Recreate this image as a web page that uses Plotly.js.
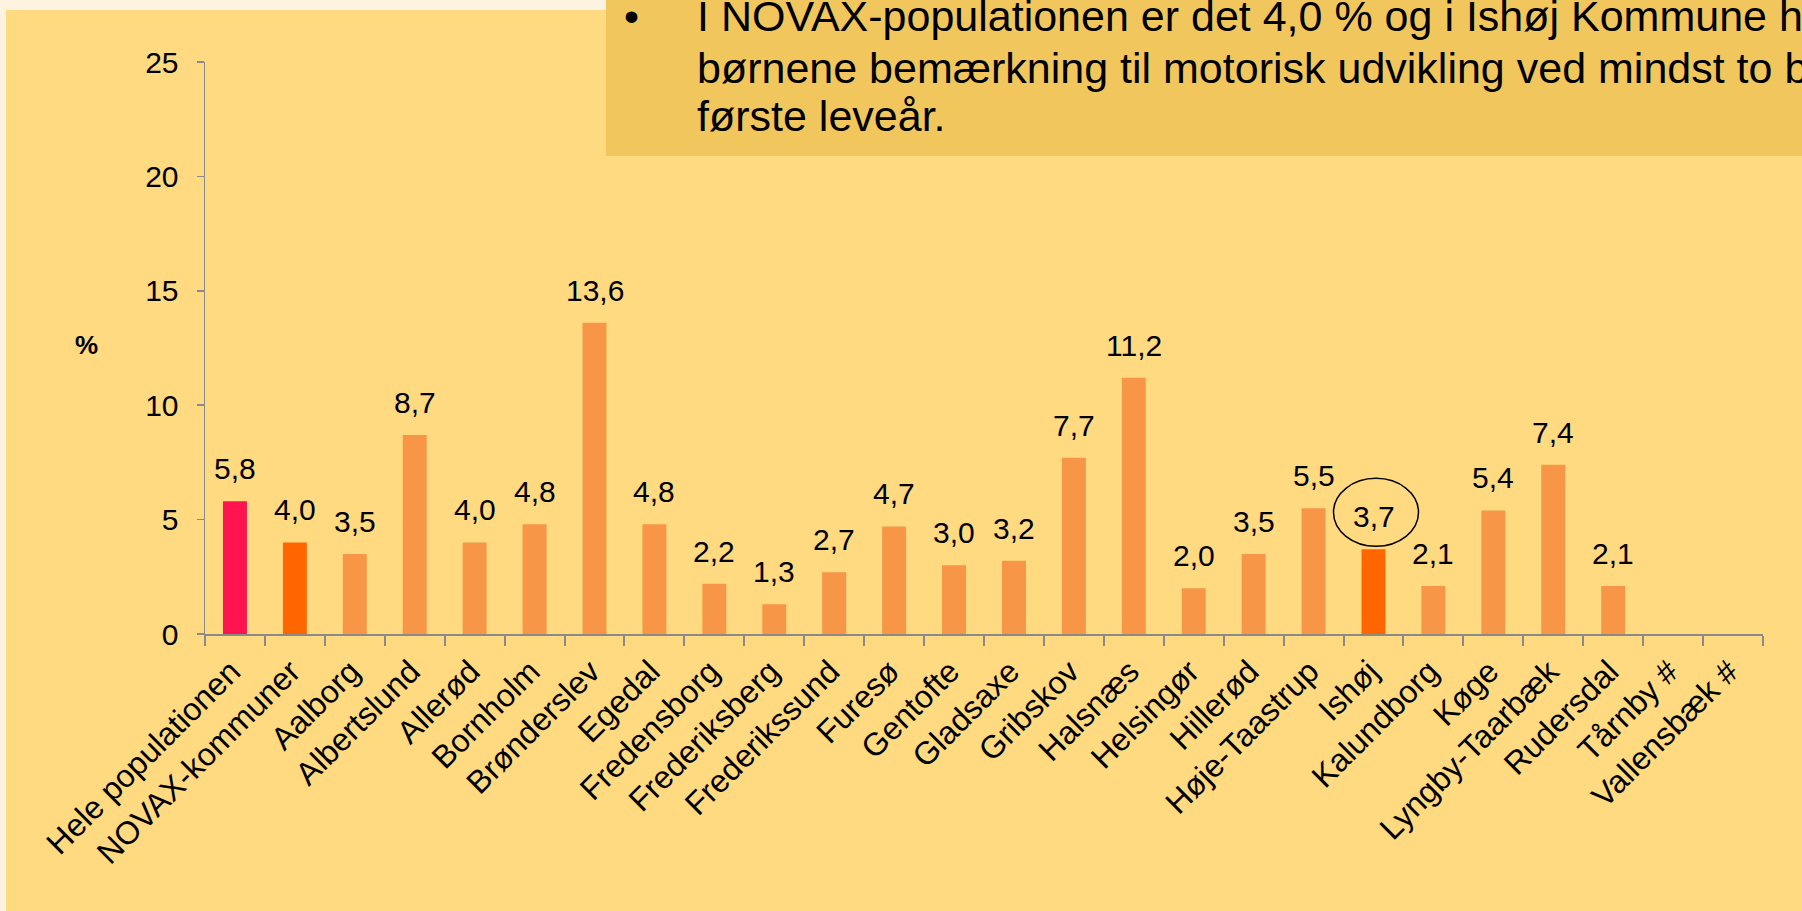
<!DOCTYPE html>
<html>
<head>
<meta charset="utf-8">
<script src="https://cdn.plot.ly/plotly-3.0.1.min.js"></script>
<style>
  html, body { margin: 0; padding: 0; background: #FDF3E0; }
  #chart { width: 1802px; height: 911px; }
</style>
</head>
<body>
<div id="chart"></div>
<script>
// ---- Data ----
const categories = [
  "Hele populationen", "NOVAX-kommuner", "Aalborg", "Albertslund", "Allerød",
  "Bornholm", "Brønderslev", "Egedal", "Fredensborg", "Frederiksberg",
  "Frederikssund", "Furesø", "Gentofte", "Gladsaxe", "Gribskov", "Halsnæs",
  "Helsingør", "Hillerød", "Høje-Taastrup", "Ishøj", "Kalundborg", "Køge",
  "Lyngby-Taarbæk", "Rudersdal", "Tårnby #", "Vallensbæk #"
];
const values = [
  5.8, 4.0, 3.5, 8.7, 4.0, 4.8, 13.6, 4.8, 2.2, 1.3, 2.7, 4.7, 3.0, 3.2,
  7.7, 11.2, 2.0, 3.5, 5.5, 3.7, 2.1, 5.4, 7.4, 2.1, null, null
];
const yTicks = [0, 5, 10, 15, 20, 25];
const yAxisLabel = "%";
const circledCategory = "Ishøj";
const noteLines = [
  "I NOVAX-populationen er det 4,0 % og i Ishøj Kommune har",
  "børnene bemærkning til motorisk udvikling ved mindst to besøg",
  "første leveår."
];

// ---- Styles ----
const FONT = '"Liberation Sans", Arial, sans-serif';
const COL_TOTAL = "#FF1450";
const COL_HIGHLIGHT = "#FF6600";
const COL_DEFAULT = "#F79646";
const AXIS_COL = "#8A8A8A";

const barColors = categories.map(c =>
  c === "Hele populationen" ? COL_TOTAL :
  (c === "NOVAX-kommuner" || c === circledCategory) ? COL_HIGHLIGHT : COL_DEFAULT);

const fmt = v => v.toFixed(1).replace(".", ",");

// plot area in pixels
const L = 205, R = 1763, T = 62, B = 634.5, W = 1802, H = 911;
const px = x => (x - L) / (R - L);
const py = y => (B - y) / (B - T);

const trace = {
  type: "bar",
  x: categories,
  y: values,
  marker: { color: barColors, line: { width: 0 } },
  hoverinfo: "x+y"
};

const annotations = [];
categories.forEach((c, i) => {
  if (values[i] == null) return;
  annotations.push({
    xref: "x", yref: "y", x: c, y: values[i],
    text: fmt(values[i]), showarrow: false,
    xanchor: "center", yanchor: "bottom", yshift: 14,
    font: { family: FONT, size: 30, color: "#000" }
  });
});

annotations.push({
  xref: "paper", yref: "paper", x: px(86), y: py(345),
  text: "<b>" + yAxisLabel + "</b>", showarrow: false,
  xanchor: "center", yanchor: "middle",
  font: { family: FONT, size: 26, color: "#000" }
});

// note box text
annotations.push({
  xref: "paper", yref: "paper", x: px(631), y: py(15.5),
  text: "•", showarrow: false, xanchor: "center", yanchor: "middle",
  font: { family: FONT, size: 43, color: "#000" }
});
const lineY = [15.5, 68, 116];
noteLines.forEach((t, i) => {
  annotations.push({
    xref: "paper", yref: "paper", x: px(694.5), y: py(lineY[i]),
    text: t, showarrow: false, xanchor: "left", yanchor: "middle",
    font: { family: FONT, size: 43, color: "#000" }
  });
});

const ci = categories.indexOf(circledCategory);
const shapes = [
  // main panel
  { type: "rect", xref: "paper", yref: "paper", layer: "below",
    x0: px(6), x1: px(W + 5), y0: py(H + 5), y1: py(10),
    fillcolor: "#FFDA80", line: { width: 0 } },
  // note box
  { type: "rect", xref: "paper", yref: "paper", layer: "below",
    x0: px(606), x1: px(W + 5), y0: py(156), y1: py(-5),
    fillcolor: "#F1C75D", line: { width: 0 } },
  // circle around highlighted label
  { type: "circle", xref: "x", yref: "y",
    xsizemode: "pixel", ysizemode: "pixel",
    xanchor: circledCategory, yanchor: values[ci],
    x0: -40, x1: 45, y0: 3, y1: 71,
    line: { color: "#000", width: 1.5 }, fillcolor: "rgba(0,0,0,0)" }
];

const layout = {
  width: W, height: H,
  margin: { l: L, r: W - R, t: T, b: H - B, pad: 0 },
  paper_bgcolor: "#FDF3E0",
  plot_bgcolor: "rgba(0,0,0,0)",
  font: { family: FONT, size: 30, color: "#000" },
  bargap: 0.6,
  showlegend: false,
  xaxis: {
    type: "category", range: [-0.5, categories.length - 0.5],
    tickson: "boundaries", ticks: "outside", ticklen: 10, tickwidth: 2,
    tickcolor: AXIS_COL, showline: true, linecolor: AXIS_COL, linewidth: 2,
    showgrid: false, zeroline: false, tickangle: -45,
    ticklabelstandoff: 4, ticklabelshift: -4,
    tickfont: { family: FONT, size: 32, color: "#000" }
  },
  yaxis: {
    range: [0, 25], tickvals: yTicks, ticktext: yTicks.map(String),
    ticks: "outside", ticklen: 7, tickwidth: 1.5, tickcolor: AXIS_COL,
    showline: true, linecolor: AXIS_COL, linewidth: 1.5,
    showgrid: false, zeroline: false, ticklabelstandoff: 12,
    tickfont: { family: FONT, size: 30, color: "#000" }
  },
  shapes: shapes,
  annotations: annotations
};

Plotly.newPlot("chart", [trace], layout, { displayModeBar: false, staticPlot: true });
</script>
</body>
</html>
